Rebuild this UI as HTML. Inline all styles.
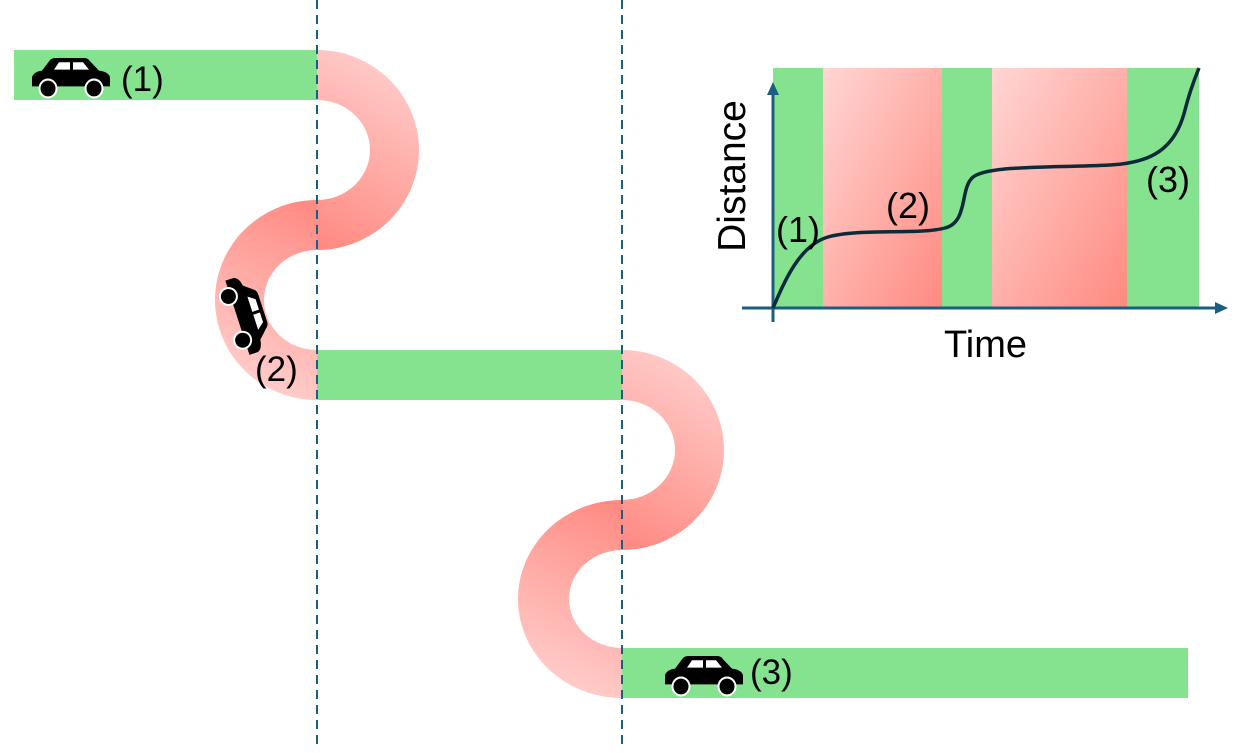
<!DOCTYPE html>
<html><head><meta charset="utf-8"><style>
html,body{margin:0;padding:0;background:#fff;}
svg{display:block;font-family:"Liberation Sans",sans-serif;}
</style></head><body>
<svg width="1240" height="753" viewBox="0 0 1240 753" xmlns="http://www.w3.org/2000/svg">
<defs>
<linearGradient id="gA" gradientUnits="userSpaceOnUse" x1="420" y1="60" x2="317" y2="250"><stop offset="0" stop-color="#ffd2d0"/><stop offset="1" stop-color="#ff8880"/></linearGradient>
<linearGradient id="gB" gradientUnits="userSpaceOnUse" x1="317" y1="200" x2="230" y2="390"><stop offset="0" stop-color="#ff8880"/><stop offset="1" stop-color="#ffd2d0"/></linearGradient>
<linearGradient id="gC" gradientUnits="userSpaceOnUse" x1="725" y1="360" x2="622" y2="550"><stop offset="0" stop-color="#ffd2d0"/><stop offset="1" stop-color="#ff8880"/></linearGradient>
<linearGradient id="gD" gradientUnits="userSpaceOnUse" x1="622" y1="500" x2="535" y2="690"><stop offset="0" stop-color="#ff8880"/><stop offset="1" stop-color="#ffd2d0"/></linearGradient>
<linearGradient id="gR" x1="0" y1="0" x2="1" y2="1"><stop offset="0" stop-color="#ffd6d4"/><stop offset="1" stop-color="#ff8a80"/></linearGradient>
<g id="car">
<path d="M0,28 L0,19 Q2,14 10,13 L18,3 Q20,1 24,1 L52,1 Q56,1 58,4 L67,13 Q76,14 78,19 L78,28 Z" fill="#000"/>
<path d="M22,12 L27,5 L38,5 L38,12 Z M41,5 L51,5 L57,12 L41,12 Z" fill="#fff"/>
<circle cx="16" cy="30" r="8.5" fill="#000" stroke="#fff" stroke-width="2"/><circle cx="62" cy="30" r="8.5" fill="#000" stroke="#fff" stroke-width="2"/>
</g>
</defs>
<rect x="14" y="50" width="303" height="50" fill="#85e28e"/>
<rect x="317" y="350" width="305" height="50" fill="#85e28e"/>
<rect x="622" y="648" width="566" height="50" fill="#85e28e"/>
<path d="M317,50 A102,100 0 0 1 317,250 L317,200 A53,50 0 0 0 317,100 Z" fill="url(#gA)"/>
<path d="M317,200 A102,100 0 0 0 317,400 L317,350 A53,50 0 0 1 317,250 Z" fill="url(#gB)"/>
<path d="M622,350 A102,100 0 0 1 622,550 L622,500 A53,50 0 0 0 622,400 Z" fill="url(#gC)"/>
<path d="M622,500 A104,99 0 0 0 622,698 L622,648 A53,49 0 0 1 622,550 Z" fill="url(#gD)"/>
<line x1="317" y1="0" x2="317" y2="745" stroke="#1a5e82" stroke-width="2" stroke-dasharray="9,6"/>
<line x1="622" y1="0" x2="622" y2="745" stroke="#1a5e82" stroke-width="2" stroke-dasharray="9,6"/>
<use href="#car" transform="translate(32,57) scale(1,1.05)"/>
<use href="#car" transform="translate(665,655) scale(1,1.05)"/>
<use href="#car" transform="translate(252,272) rotate(72)"/>
<text x="121" y="91" font-size="35">(1)</text>
<text x="255" y="381" font-size="35">(2)</text>
<text x="750" y="684" font-size="35">(3)</text>
<rect x="773" y="68" width="50" height="240" fill="#85e28e"/>
<rect x="823" y="68" width="119" height="240" fill="url(#gR)"/>
<rect x="942" y="68" width="50" height="240" fill="#85e28e"/>
<rect x="992" y="68" width="135" height="240" fill="url(#gR)"/>
<rect x="1127" y="68" width="72" height="240" fill="#85e28e"/>
<line x1="742" y1="308" x2="1218" y2="308" stroke="#1a5e82" stroke-width="3"/>
<path d="M1228,308 L1215,302 L1215,314 Z" fill="#1a5e82"/>
<line x1="773" y1="322" x2="773" y2="92" stroke="#1a5e82" stroke-width="3"/>
<path d="M773,82 L767,95 L779,95 Z" fill="#1a5e82"/>
<path d="M773,308 C785,280 800,245 828,237 C860,228 920,235 945,228 C968,222 960,190 972,178 C985,165 1050,168 1110,165 C1150,163 1175,150 1185,110 C1190,90 1195,78 1199,68" fill="none" stroke="#0b2a3a" stroke-width="3.5"/>
<text x="776" y="242" font-size="36">(1)</text>
<text x="886" y="218" font-size="36">(2)</text>
<text x="1146" y="192" font-size="36">(3)</text>
<text x="944" y="357" font-size="38">Time</text>
<text transform="translate(745,176) rotate(-90)" font-size="39" text-anchor="middle">Distance</text>
</svg>
</body></html>
